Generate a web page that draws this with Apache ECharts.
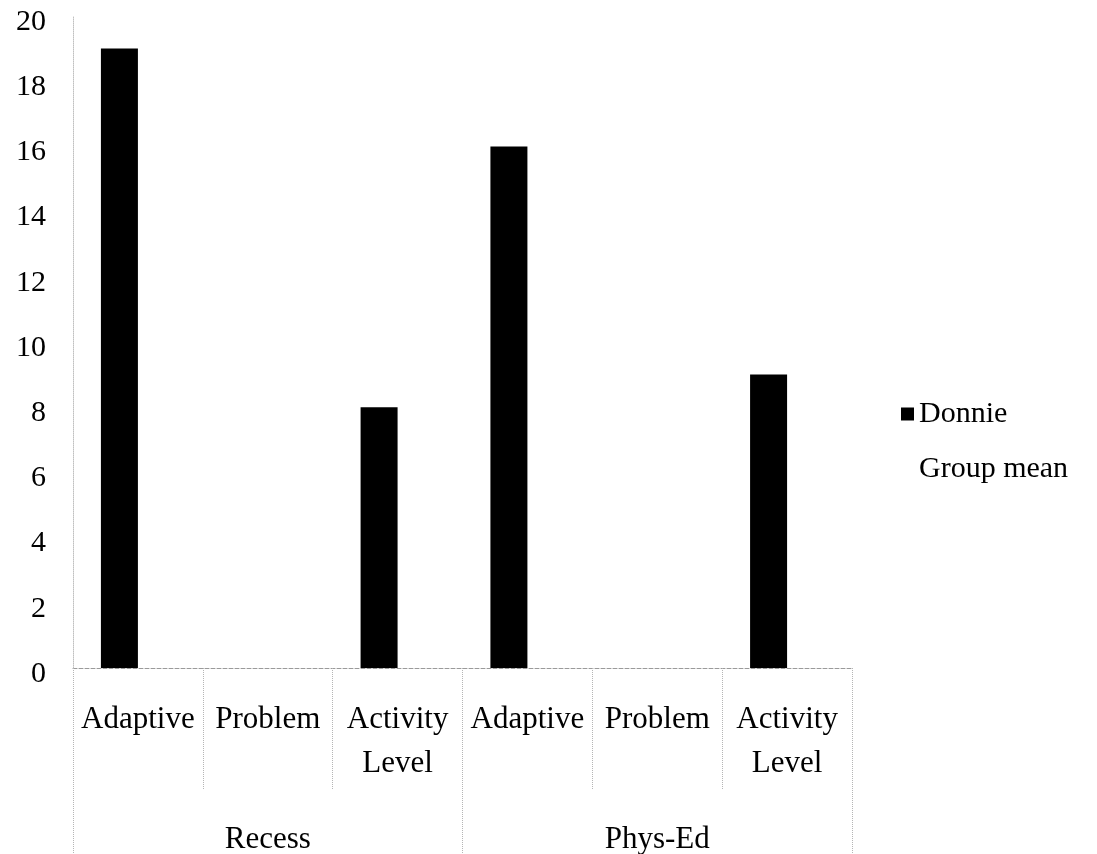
<!DOCTYPE html>
<html>
<head>
<meta charset="utf-8">
<script src="https://cdn.jsdelivr.net/npm/echarts@6/dist/echarts.min.js"></script>
<style>
html,body{margin:0;padding:0;background:#fff;}
#chart{width:1097px;height:854px;}
</style>
</head>
<body>
<div id="chart"></div>
<script>
var categories = ['Adaptive', 'Problem', 'Activity Level', 'Adaptive', 'Problem', 'Activity Level'];
var groups = ['Recess', 'Phys-Ed'];
var donnie = [19, 0, 8, 16, 0, 9];
var groupMean = [null, null, null, null, null, null];
var yTicks = [0, 2, 4, 6, 8, 10, 12, 14, 16, 18, 20];

var FONT = "'Liberation Serif', 'Times New Roman', serif";
var chart = echarts.init(document.getElementById('chart'));
chart.setOption({
  animation: false,
  backgroundColor: '#ffffff',
  grid: { left: 73, right: 245, top: 16, bottom: 186, containLabel: false, outerBoundsMode: 'none' },
  legend: {
    orient: 'vertical', left: 896, top: 394, itemWidth: 13, itemHeight: 13, itemGap: 25, icon: 'rect',
    textStyle: { fontFamily: FONT, fontSize: 30, color: '#000', lineHeight: 30 },
    data: ['Donnie', 'Group mean']
  },
  xAxis: [
    {
      type: 'category', data: categories, position: 'bottom',
      axisLine: { show: true, lineStyle: { color: '#9a9a9a', type: 'dashed', width: 1 } },
      axisTick: { show: true, length: 122, interval: 0, lineStyle: { color: '#b5b5b5', type: 'dotted', width: 1 } },
      axisLabel: { interval: 0, margin: 30, fontFamily: FONT, fontSize: 31, color: '#000', lineHeight: 44,
        formatter: function (v) { return v.replace(' ', '\n'); } },
      splitLine: { show: false }
    },
    {
      type: 'category', data: groups, position: 'bottom', axisLine: { show: false },
      axisTick: { show: true, length: 186, interval: 0, lineStyle: { color: '#b5b5b5', type: 'dotted', width: 1 } },
      axisLabel: { interval: 0, margin: 150, fontFamily: FONT, fontSize: 31, color: '#000', lineHeight: 44 },
      splitLine: { show: false }
    }
  ],
  yAxis: {
    type: 'value', min: yTicks[0], max: yTicks[yTicks.length - 1], interval: yTicks[1] - yTicks[0],
    axisLine: { show: true, lineStyle: { color: '#c0c0c0', type: 'dotted', width: 1 } },
    axisTick: { show: false }, splitLine: { show: false },
    axisLabel: {
      margin: 27, fontFamily: FONT, fontSize: 30, color: '#000',
      formatter: function (v) { return '{a|' + v + '}'; },
      rich: { a: { fontFamily: FONT, fontSize: 30, color: '#000', lineHeight: 30, padding: [12, 0, 0, 0] } }
    }
  },
  series: [
    { name: 'Donnie', type: 'bar', xAxisIndex: 0, data: donnie, barWidth: 37, barGap: '0%', itemStyle: { color: '#000000' } },
    { name: 'Group mean', type: 'bar', xAxisIndex: 0, data: groupMean, barWidth: 37, barGap: '0%', itemStyle: { color: '#ffffff' } }
  ]
});
</script>
</body>
</html>
